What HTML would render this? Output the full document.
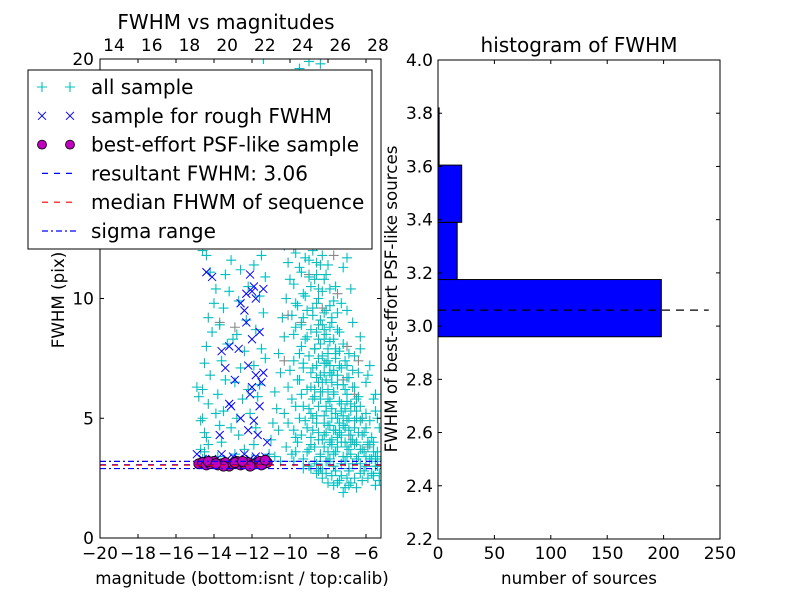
<!DOCTYPE html>
<html><head><meta charset="utf-8"><style>
html,body{margin:0;padding:0;background:#fff;}
svg{display:block;font-family:"DejaVu Sans","Liberation Sans",sans-serif;}
</style></head><body>
<svg id="fig" width="800" height="600" viewBox="0 0 800 600">
<rect width="800" height="600" fill="#fff"/>
<g id="left"></g>
<g id="right"></g>
</svg>
<script>
const cyanPts=[[-14.6,3.3],[-14.5,3.6],[-14.4,4.2],[-14.7,4.9],[-14.3,5.6],[-14.6,6.2],[-14.2,6.8],[-14.5,7.3],[-14.4,8.0],[-14.1,8.6],[-14.3,9.2],[-14.0,9.8],[-13.9,10.4],[-14.2,11.1],[-14.4,11.8],[-14.6,12.0],[-13.8,3.4],[-13.6,4.0],[-13.7,4.7],[-13.5,5.3],[-13.8,6.0],[-13.4,6.6],[-13.6,7.4],[-13.3,8.1],[-13.7,8.9],[-13.5,9.6],[-13.2,10.3],[-13.4,11.0],[-13.1,11.6],[-12.9,3.5],[-12.7,4.3],[-12.8,5.0],[-12.5,5.8],[-12.9,6.5],[-12.6,7.1],[-12.4,7.8],[-12.8,8.5],[-12.3,9.1],[-12.7,9.9],[-12.2,10.5],[-12.0,3.3],[-11.9,3.9],[-11.8,4.6],[-12.1,5.2],[-11.7,5.9],[-11.6,6.4],[-11.9,7.2],[-11.5,7.9],[-11.8,8.7],[-11.4,9.4],[-11.6,10.1],[-11.3,10.9],[-11.5,11.8],[-11.2,12.5],[-14.8,5.9],[-14.9,6.3],[-14.6,5.0],[-14.5,4.4],[-14.3,3.9],[-14.7,3.7],[-11.1,3.5],[-11.0,4.1],[-10.9,4.8],[-10.7,5.4],[-10.8,6.1],[-10.5,6.9],[-10.6,7.7],[-10.3,8.4],[-10.4,9.2],[-10.2,10.0],[-10.1,11.5],[-10.0,13.0],[-9.9,14.5],[-9.8,3.2],[-9.7,3.6],[-9.6,4.0],[-9.8,4.5],[-9.5,5.0],[-9.7,5.5],[-9.4,6.0],[-9.6,6.6],[-9.3,7.1],[-9.5,7.7],[-9.2,8.3],[-9.4,8.9],[-9.1,9.5],[-9.3,10.2],[-9.0,10.9],[-9.2,11.7],[-8.9,12.4],[-9.1,13.3],[-8.8,14.2],[-9.0,15.1],[-8.7,16.0],[-8.9,17.2],[-8.6,18.1],[-8.8,19.3],[-8.5,2.8],[-8.6,3.1],[-8.4,3.4],[-8.7,3.8],[-8.3,4.1],[-8.5,4.4],[-8.2,4.8],[-8.6,5.1],[-8.1,5.5],[-8.4,5.8],[-8.0,6.2],[-8.3,6.5],[-7.9,6.9],[-8.2,7.3],[-8.0,7.7],[-8.4,8.1],[-8.1,8.5],[-8.5,8.9],[-8.2,9.4],[-8.6,9.8],[-8.3,10.3],[-8.7,10.8],[-8.4,11.4],[-8.8,12.0],[-8.5,12.7],[-8.9,13.5],[-8.3,14.4],[-8.6,15.5],[-8.2,16.7],[-7.8,2.6],[-7.7,3.0],[-7.9,3.3],[-7.6,3.6],[-7.8,3.9],[-7.5,4.2],[-7.7,4.5],[-7.4,4.8],[-7.6,5.2],[-7.3,5.6],[-7.7,6.0],[-7.5,6.4],[-7.8,6.8],[-7.4,7.2],[-7.6,7.7],[-7.9,8.2],[-7.5,8.7],[-7.8,9.2],[-7.3,9.8],[-7.6,10.5],[-7.2,11.3],[-7.0,2.5],[-6.9,2.9],[-7.1,3.2],[-6.8,3.5],[-7.0,3.8],[-6.7,4.1],[-6.9,4.5],[-6.6,4.9],[-6.8,5.3],[-6.5,5.8],[-6.7,6.3],[-6.4,6.9],[-6.6,7.6],[-6.3,8.4],[-6.2,2.4],[-6.1,2.8],[-6.3,3.1],[-6.0,3.4],[-6.2,3.7],[-5.9,4.0],[-6.1,4.4],[-5.8,4.9],[-5.6,2.6],[-5.5,3.0],[-5.7,3.3],[-5.4,3.6],[-5.6,4.0],[-5.3,2.7],[-5.4,3.2],[-5.3,4.6],[-5.5,5.3],[-9.3,3.3],[-9.0,3.7],[-8.9,4.2],[-9.1,4.6],[-8.8,5.0],[-9.0,5.4],[-8.7,5.9],[-8.9,6.3],[-8.6,6.7],[-8.8,7.1],[-8.5,7.5],[-8.7,7.9],[-8.4,2.9],[-8.1,3.2],[-8.0,3.6],[-7.9,4.0],[-8.2,4.3],[-8.0,4.7],[-7.8,5.0],[-8.1,5.3],[-7.9,5.7],[-8.3,6.1],[-8.1,6.6],[-7.7,7.0],[-8.0,7.4],[-7.6,7.9],[-8.2,8.3],[-7.9,8.8],[-7.2,3.4],[-7.3,4.0],[-7.1,4.6],[-7.2,5.1],[-7.0,5.7],[-7.1,6.2],[-6.9,6.7],[-7.0,7.2],[-6.5,3.3],[-6.6,3.9],[-6.4,4.4],[-6.5,5.0],[-6.3,5.5],[-9.9,5.8],[-10.0,7.0],[-9.8,8.5],[-9.7,9.8],[-9.5,11.3],[-9.6,12.8],[-9.4,14.1],[-9.2,15.8],[-9.0,17.5],[-8.7,18.6],[-8.4,19.8],[-7.8,12.8],[-7.4,13.5],[-7.0,9.5],[-6.8,10.4],[-6.0,6.5],[-5.8,7.2],[-5.5,6.0],[-8.9,2.9],[-8.6,2.7],[-8.3,2.5],[-8.0,2.3],[-7.7,2.2],[-7.4,2.4],[-7.1,2.1],[-6.8,2.3],[-9.3,2.9],[-10.5,3.2],[-10.2,3.8],[-10.8,3.4],[-10.6,4.5],[-10.3,5.2],[-10.1,6.3],[-12.4,3.7],[-13.1,4.6],[-13.9,5.2],[-12.2,6.2],[-11.3,7.5],[-13.0,8.3],[-12.6,11.2],[-11.9,11.4],[-13.4,12.3],[-12.1,13.1],[-11.4,20.0]];
const cyanDense=[[-9.2,19.0],[-8.9,18.4],[-9.4,17.9],[-8.5,17.4],[-9.1,16.8],[-8.7,16.4],[-9.3,16.2],[-8.4,15.8],[-9.5,15.5],[-8.8,15.2],[-9.0,14.7],[-8.6,14.6],[-9.4,14.3],[-8.2,14.0],[-9.2,13.8],[-8.7,13.6],[-8.4,13.2],[-9.6,13.0],[-8.9,12.9],[-8.1,12.6],[-9.3,12.4],[-8.6,12.2],[-9.7,11.9],[-8.3,11.8],[-9.0,11.6],[-8.0,11.4],[-9.4,11.1],[-8.6,11.0],[-8.2,10.8],[-9.8,10.6],[-8.9,10.5],[-7.9,10.4],[-9.2,10.1],[-8.5,10.0],[-7.7,9.9],[-9.6,9.7],[-8.8,9.6],[-8.1,9.5],[-7.5,9.4],[-9.3,9.2],[-8.4,9.1],[-7.8,9.0],[-9.7,8.8],[-8.9,8.7],[-8.2,8.7],[-7.4,8.6],[-9.1,8.4],[-8.5,8.3],[-7.7,8.3],[-7.2,8.1],[-9.4,8.0],[-8.7,7.9],[-8.0,7.9],[-7.4,7.8],[-6.9,7.7],[-9.0,7.6],[-8.3,7.6],[-7.6,7.5],[-7.1,7.4],[-9.3,7.3],[-8.6,7.2],[-7.9,7.2],[-7.3,7.1],[-6.7,7.0],[-8.9,6.9],[-8.2,6.9],[-7.5,6.8],[-7.0,6.7],[-9.5,6.6],[-8.5,6.5],[-7.8,6.5],[-7.2,6.4],[-6.6,6.3],[-9.1,6.2],[-8.4,6.1],[-7.7,6.1],[-7.0,6.0],[-6.4,5.9],[-8.8,5.8],[-8.0,5.8],[-7.4,5.7],[-6.8,5.6],[-9.3,5.5],[-8.5,5.5],[-7.8,5.4],[-7.1,5.4],[-6.5,5.3],[-6.0,5.2],[-8.9,5.2],[-8.2,5.1],[-7.5,5.0],[-6.9,5.0],[-6.3,4.9],[-9.2,4.9],[-8.6,4.8],[-7.9,4.7],[-7.2,4.7],[-6.6,4.6],[-6.0,4.6],[-8.8,4.5],[-8.1,4.4],[-7.4,4.4],[-6.8,4.3],[-6.2,4.3],[-5.7,4.2],[-9.4,4.3],[-8.5,4.1],[-7.8,4.1],[-7.1,4.0],[-6.5,4.0],[-5.9,3.9],[-8.9,3.9],[-8.2,3.8],[-7.5,3.8],[-6.9,3.7],[-6.3,3.7],[-5.6,3.6],[-9.1,3.6],[-8.4,3.5],[-7.7,3.5],[-7.0,3.4],[-6.4,3.4],[-5.8,3.3],[-5.2,3.3],[-8.7,3.2],[-8.0,3.2],[-7.3,3.1],[-6.7,3.1],[-6.0,3.0],[-5.4,3.0],[-9.0,3.0],[-8.3,2.9],[-7.6,2.8],[-6.9,2.8],[-6.3,2.7],[-5.7,2.7],[-8.1,2.7],[-7.3,2.6],[-6.6,2.5],[-5.9,2.5],[-5.3,2.4],[-7.5,2.3],[-6.9,2.2],[-7.2,1.9],[-6.5,2.1],[-5.5,2.2],[-9.8,7.4],[-9.9,9.3],[-10.0,10.8],[-9.6,18.6],[-8.3,18.9],[-8.0,17.1],[-7.8,15.4],[-7.5,14.6],[-7.3,12.4],[-7.0,11.7],[-6.7,9.0],[-6.3,7.9],[-5.9,6.8],[-5.6,5.8],[-5.4,5.0],[-9.5,19.6],[-9.0,19.9],[-8.1,19.3],[-10.3,12.2],[-10.0,14.3],[-9.8,16.4],[-9.7,4.2],[-10.1,4.8],[-9.9,3.5],[-8.7,6.2],[-8.4,6.8],[-8.1,7.3],[-8.6,8.6],[-8.3,8.9],[-8.8,9.3],[-7.9,9.7],[-8.5,10.4],[-8.1,11.0],[-8.6,11.5],[-7.3,4.3],[-7.0,4.9],[-6.8,4.0],[-7.6,4.5],[-7.3,5.3],[-6.6,5.5],[-6.2,5.0],[-6.1,3.6],[-5.8,3.9],[-5.5,3.4]];
const grayPts=[[-9.6,13.8],[-9.0,11.0],[-8.3,9.6],[-7.5,10.2],[-7.0,8.0],[-6.6,6.0],[-6.2,5.0],[-8.8,16.5],[-9.4,9.0],[-7.9,15.1],[-6.9,4.3],[-10.3,7.4],[-8.6,12.3],[-7.2,6.6],[-5.9,3.8],[-13.7,9.0],[-12.9,8.8],[-9.8,12.1],[-8.1,13.7],[-6.4,7.4],[-10.1,9.3],[-7.7,11.8]];
const bluePts=[[-14.4,11.1],[-14.1,10.9],[-12.3,10.2],[-12.1,11.0],[-12.0,10.3],[-12.6,9.8],[-12.4,9.5],[-11.8,10.0],[-11.9,10.5],[-12.3,9.0],[-11.6,8.6],[-12.0,8.3],[-13.2,8.0],[-12.7,7.9],[-13.6,7.8],[-13.4,7.1],[-12.9,6.6],[-11.4,6.9],[-11.5,6.5],[-12.0,6.3],[-12.1,6.0],[-13.1,5.5],[-12.6,5.0],[-11.9,4.9],[-12.2,4.5],[-11.7,4.3],[-13.7,4.3],[-13.2,5.6],[-12.2,7.2],[-11.8,6.8],[-11.6,5.5],[-13.6,3.5],[-13.0,3.4],[-12.4,3.5],[-11.8,3.4],[-11.3,3.4],[-14.6,3.3],[-14.9,3.5],[-14.1,3.3],[-13.3,3.3],[-12.7,3.3],[-12.1,3.3],[-11.5,3.3],[-11.2,4.0],[-11.4,10.4],[-11.9,21.0]];
const psfPts=[[-14.8,3.1],[-14.6,3.15],[-14.4,3.05],[-14.2,3.1],[-14.0,3.2],[-13.8,3.05],[-13.6,3.1],[-13.4,3.15],[-13.2,3.0],[-13.0,3.1],[-12.8,3.2],[-12.6,3.05],[-12.4,3.1],[-12.2,3.15],[-12.0,3.05],[-11.8,3.1],[-11.6,3.2],[-11.4,3.1],[-11.2,3.15],[-14.3,3.2],[-13.5,3.0],[-12.9,3.15],[-12.1,3.0],[-11.5,3.05],[-13.9,3.1],[-12.5,3.2],[-11.3,3.25]];
const hLines=[3.06,3.04,3.2,2.9];
const xTicksBottom=[-20,-18,-16,-14,-12,-10,-8,-6];
const xTicksTop=[14,16,18,20,22,24,26,28];
const yTicksLeft=[0,5,10];
const binEdges=[2.96,3.175,3.39,3.605,3.82];
const binCounts=[198,17,21,1];
const resultFWHM=3.06;
const histXTicks=[0,50,100,150,200,250];
const histYTicks=[2.2,2.4,2.6,2.8,3.0,3.2,3.4,3.6,3.8,4.0];

const NS="http://www.w3.org/2000/svg";
function mk(parent,tag,attrs,text){const e=document.createElementNS(NS,tag);for(const k in attrs)e.setAttribute(k,attrs[k]);if(text!==undefined)e.textContent=text;parent.appendChild(e);return e;}

// Left chart
const L=document.getElementById('left');
const lx0=100,lx1=381,ly0=59,ly1=538;
const xm=m=>lx0+(m+20)*19;
const xt=c=>114+(c-14)*(264/14);
const yv=v=>ly1-v*(ly1-ly0)/20;
function plus(g,x,y,c){mk(g,'path',{d:`M${x-5},${y}H${x+5}M${x},${y-5}V${y+5}`,stroke:c,'stroke-width':1.1,fill:'none'});}
const clip=mk(L,'clipPath',{id:'lc'});mk(clip,'rect',{x:lx0,y:ly0,width:lx1-lx0,height:ly1-ly0});
const pg=mk(L,'g',{'clip-path':'url(#lc)'});
const gGray=mk(pg,'g',{});

grayPts.forEach(p=>plus(gGray,xm(p[0]),yv(p[1]),'#888'));
const gCy=mk(pg,'g',{});

cyanPts.forEach(p=>plus(gCy,xm(p[0]),yv(p[1]),'#00bfbf'));
cyanDense.forEach(p=>plus(gCy,xm(p[0]),yv(p[1]),'#00bfbf'));
const gBl=mk(pg,'g',{});

bluePts.forEach(p=>{const x=xm(p[0]),y=yv(p[1]);mk(gBl,'path',{d:`M${x-4},${y-4}L${x+4},${y+4}M${x-4},${y+4}L${x+4},${y-4}`,stroke:'#0000ff','stroke-width':1});});
const gPs=mk(pg,'g',{});

psfPts.forEach(p=>mk(gPs,'circle',{cx:xm(p[0]),cy:yv(p[1]),r:5,fill:'#bf00bf',stroke:'#000','stroke-width':0.8}));
const lineStyles=[['#0000ff','6,6'],['#ff0000','6,6'],['#0000ff','6,3,2,3'],['#0000ff','6,3,2,3']];
hLines.forEach((v,i)=>{const l=mk(pg,'line',{x1:lx0,x2:lx1,y1:yv(v),y2:yv(v),stroke:lineStyles[i][0],'stroke-width':1.2,'stroke-dasharray':lineStyles[i][1]});
});
mk(L,'rect',{x:lx0,y:ly0,width:lx1-lx0,height:ly1-ly0,fill:'none',stroke:'#000','stroke-width':1});
xTicksBottom.forEach(t=>{const x=xm(t);mk(L,'line',{x1:x,x2:x,y1:ly1,y2:ly1-4,stroke:'#000'});mk(L,'line',{x1:x,x2:x,y1:ly0,y2:ly0+4,stroke:'#000'});
const tx=mk(L,'text',{x:x,y:559,'font-size':17,'text-anchor':'middle'},'\u2212'+Math.abs(t));});
xTicksTop.forEach(t=>{const x=xt(t);const tx=mk(L,'text',{x:x,y:51,'font-size':17,'text-anchor':'middle'},String(t));});
yTicksLeft.forEach(t=>{const y=yv(t);mk(L,'line',{x1:lx0,x2:lx0+4,y1:y,y2:y,stroke:'#000'});mk(L,'line',{x1:lx1,x2:lx1-4,y1:y,y2:y,stroke:'#000'});
const tx=mk(L,'text',{x:94,y:y+6,'font-size':17,'text-anchor':'end'},String(t));});
mk(L,'text',{x:94,y:65,'font-size':17,'text-anchor':'end'},'20');
mk(L,'text',{x:226,y:29,'font-size':20,'text-anchor':'middle',},'FWHM vs magnitudes');
mk(L,'text',{x:242,y:584,'font-size':16.7,'text-anchor':'middle',},'magnitude (bottom:isnt / top:calib)');
mk(L,'text',{x:64,y:300,'font-size':16.7,'text-anchor':'middle',transform:'rotate(-90 64 300)',},'FWHM (pix)');
// legend
const lg=mk(L,'g',{});
mk(lg,'rect',{x:28,y:70,width:344,height:179,fill:'#fff',stroke:'#000','stroke-width':1});
const labels=['all sample','sample for rough FWHM','best-effort PSF-like sample','resultant FWHM: 3.06','median FHWM of sequence','sigma range'];
labels.forEach((s,i)=>{const y=87+i*28.8;const e=mk(lg,'g',{});

if(i===0){plus(e,42,y,'#00bfbf');plus(e,70,y,'#00bfbf');}
if(i===1){[42,70].forEach(x=>mk(e,'path',{d:`M${x-4},${y-4}L${x+4},${y+4}M${x-4},${y+4}L${x+4},${y-4}`,stroke:'#0000ff'}));}
if(i===2){[42,70].forEach(x=>mk(e,'circle',{cx:x,cy:y,r:4.5,fill:'#bf00bf',stroke:'#000','stroke-width':0.8}));}
if(i>=3){const st=[['#0000ff','6,6'],['#ff0000','6,6'],['#0000ff','6,3,2,3']][i-3];mk(e,'line',{x1:42,x2:78,y1:y,y2:y,stroke:st[0],'stroke-width':1.2,'stroke-dasharray':st[1]});}
mk(e,'text',{x:91,y:y+7,'font-size':20},s);});

// Right chart
const R=document.getElementById('right');
const rx0=438,rx1=720,ry0=60,ry1=539;
const xc=c=>rx0+c*(rx1-rx0)/250;
const yf=v=>ry1-(v-2.2)*(ry1-ry0)/1.8;
binCounts.forEach((c,i)=>{const b=mk(R,'rect',{x:rx0,y:yf(binEdges[i+1]),width:xc(c)-rx0,height:yf(binEdges[i])-yf(binEdges[i+1]),fill:'#0000ff',stroke:'#000','stroke-width':1});
});
mk(R,'line',{x1:rx0,x2:xc(240),y1:yf(resultFWHM),y2:yf(resultFWHM),stroke:'#000','stroke-width':1.2,'stroke-dasharray':'8,6',});
mk(R,'rect',{x:rx0,y:ry0,width:rx1-rx0,height:ry1-ry0,fill:'none',stroke:'#000'});
histXTicks.forEach(t=>{const x=xc(t);mk(R,'line',{x1:x,x2:x,y1:ry1,y2:ry1-4,stroke:'#000'});mk(R,'line',{x1:x,x2:x,y1:ry0,y2:ry0+4,stroke:'#000'});
const tx=mk(R,'text',{x:x,y:559,'font-size':17,'text-anchor':'middle'},String(t));});
histYTicks.forEach(t=>{const y=yf(t);mk(R,'line',{x1:rx0,x2:rx0+4,y1:y,y2:y,stroke:'#000'});mk(R,'line',{x1:rx1,x2:rx1-4,y1:y,y2:y,stroke:'#000'});
const tx=mk(R,'text',{x:433,y:y+6,'font-size':17,'text-anchor':'end'},t.toFixed(1));});
mk(R,'text',{x:579,y:52,'font-size':20,'text-anchor':'middle',},'histogram of FWHM');
mk(R,'text',{x:579,y:584,'font-size':16.7,'text-anchor':'middle',},'number of sources');
mk(R,'text',{x:397,y:299,'font-size':16.7,'text-anchor':'middle',transform:'rotate(-90 397 299)',},'FWHM of best-effort PSF-like sources');
</script>
</body></html>
